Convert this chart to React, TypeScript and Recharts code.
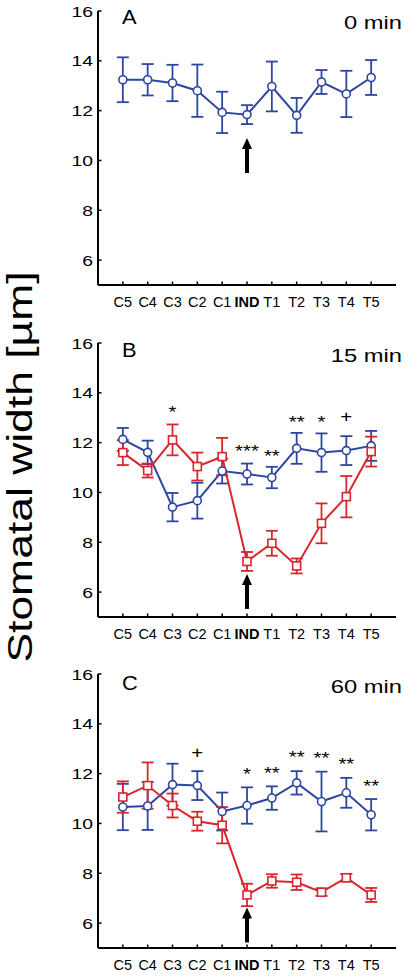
import { ComposedChart, ErrorBar, Line, Scatter, XAxis, YAxis } from 'recharts';

const categories = ['C5', 'C4', 'C3', 'C2', 'C1', 'IND', 'T1', 'T2', 'T3', 'T4', 'T5'];
const yTicks = [6, 8, 10, 12, 14, 16];

// panel A, 0 min
const blueA = [13.24, 13.24, 13.11, 12.8, 11.93, 11.84, 12.97, 11.81, 13.15, 12.67, 13.33];
const blueAErr = [0.9, 0.63, 0.73, 1.05, 0.83, 0.38, 1.0, 0.7, 0.48, 0.93, 0.7];

// panel B, 15 min
const blueB = [12.13, 11.61, 9.41, 9.67, 10.86, 10.74, 10.6, 11.77, 11.6, 11.68, 11.87];
const blueBErr = [0.46, 0.47, 0.57, 0.72, 0.5, 0.42, 0.43, 0.62, 0.77, 0.58, 0.6];
const redB = [11.6, 10.88, 12.11, 11.04, 11.44, 7.23, 7.96, 7.05, 8.76, 9.83, 11.64];
const redBErr = [0.5, 0.28, 0.62, 0.56, 0.75, 0.38, 0.5, 0.3, 0.8, 0.83, 0.6];

// panel C, 60 min
const blueC = [10.66, 10.7, 11.56, 11.52, 10.48, 10.72, 11.02, 11.63, 10.88, 11.23, 10.35];
const blueCErr = [0.93, 0.96, 0.84, 0.58, 0.76, 0.73, 0.47, 0.47, 1.2, 0.6, 0.63];
const redC = [11.06, 11.52, 10.72, 10.09, 9.93, 7.13, 7.69, 7.64, 7.24, 7.82, 7.13];
const redCErr = [0.63, 0.93, 0.48, 0.38, 0.73, 0.45, 0.27, 0.31, 0.15, 0.15, 0.28];

// significance marks: category index, height, symbol
const marksB = [
  { x: 2, y: 13.38, text: '*' },
  { x: 5, y: 11.84, text: '***' },
  { x: 6, y: 11.64, text: '**' },
  { x: 7, y: 13.0, text: '**' },
  { x: 8, y: 13.0, text: '*' },
  { x: 9, y: 13.05, text: '+' },
];
const marksC = [
  { x: 3, y: 12.85, text: '+' },
  { x: 5, y: 12.15, text: '*' },
  { x: 6, y: 12.2, text: '**' },
  { x: 7, y: 12.82, text: '**' },
  { x: 8, y: 12.78, text: '**' },
  { x: 9, y: 12.56, text: '**' },
  { x: 10, y: 11.68, text: '**' },
];

// arrow tip under IND
const arrowA = [{ x: 5, y: 10.9 }];
const arrowB = [{ x: 5, y: 6.73 }];
const arrowC = [{ x: 5, y: 6.63 }];

const FONT = '"Liberation Sans", Arial, Helvetica, sans-serif';
const BLUE = '#2c46a2';
const RED = '#d8262f';

function buildRows(blue: number[], blueErr: number[], red?: number[], redErr?: number[]) {
  return categories.map((label, i) => ({
    x: i,
    label,
    blue: blue[i],
    blueErr: blueErr[i],
    red: red ? red[i] : undefined,
    redErr: redErr ? redErr[i] : undefined,
  }));
}

const YTick = (props: any) => {
  const { x, y, payload } = props;
  return (
    <g>
      <line x1={x} y1={y} x2={x + 3.5} y2={y} stroke="#000" strokeWidth={1.5} />
      <text
        transform={`translate(${x - 5},${y + 5.5}) scale(1.25,1)`}
        textAnchor="end"
        fontSize={15.5}
        fontFamily={FONT}
        fill="#000"
      >
        {payload.value}
      </text>
    </g>
  );
};

const XTick = (props: any) => {
  const { x, y, payload } = props;
  const label = categories[payload.value] ?? '';
  return (
    <g>
      <line x1={x} y1={y} x2={x} y2={y - 3.5} stroke="#000" strokeWidth={1.5} />
      <text
        x={x}
        y={y + 22}
        textAnchor="middle"
        fontSize={14.5}
        fontWeight={label === 'IND' ? 'bold' : 'normal'}
        fontFamily={FONT}
        fill="#000"
      >
        {label}
      </text>
    </g>
  );
};

const circleDot = (p: any) => (
  <circle key={`c${p.index}`} cx={p.cx} cy={p.cy} r={4} fill="#fff" stroke={BLUE} strokeWidth={1.6} />
);

const squareDot = (p: any) => (
  <rect key={`s${p.index}`} x={p.cx - 4} y={p.cy - 4} width={8} height={8} fill="#fff" stroke={RED} strokeWidth={1.6} />
);

const MarkShape = (props: any) => {
  const { cx, cy, payload } = props;
  const plus = payload.text === '+';
  return (
    <text
      transform={`translate(${cx},${cy + (plus ? 6 : 10)}) scale(1.2,1)`}
      textAnchor="middle"
      fontSize={17}
      fontFamily={FONT}
      fill="#000"
    >
      {payload.text}
    </text>
  );
};

const ArrowShape = (props: any) => {
  const { cx, cy } = props;
  return (
    <g>
      <polygon points={`${cx},${cy} ${cx - 5},${cy + 11} ${cx + 5},${cy + 11}`} fill="#000" />
      <rect x={cx - 2} y={cy + 10} width={4} height={25} fill="#000" />
    </g>
  );
};

type PanelProps = {
  top: number;
  rows: ReturnType<typeof buildRows>;
  marks: { x: number; y: number; text: string }[];
  arrow: { x: number; y: number }[];
  withRed: boolean;
};

function Panel({ top, rows, marks, arrow, withRed }: PanelProps) {
  return (
    <div style={{ position: 'absolute', left: 0, top, width: 408, height: 312 }}>
      <ComposedChart width={408} height={312} margin={{ top: 10, right: 12, left: 0, bottom: 0 }}>
        <XAxis
          dataKey="x"
          type="number"
          domain={[-1, 11]}
          ticks={categories.map((_, i) => i)}
          interval={0}
          height={28}
          axisLine={{ stroke: '#000', strokeWidth: 2 }}
          tickLine={false}
          tickSize={0}
          tickMargin={0}
          tick={XTick}
        />
        <YAxis
          type="number"
          domain={[5, 16]}
          ticks={yTicks}
          width={98}
          axisLine={{ stroke: '#000', strokeWidth: 2 }}
          tickLine={false}
          tickSize={0}
          tickMargin={0}
          tick={YTick}
          allowDataOverflow
        />
        <Line
          data={rows}
          dataKey="blue"
          stroke={BLUE}
          strokeWidth={2}
          dot={circleDot}
          activeDot={false}
          isAnimationActive={false}
        >
          <ErrorBar dataKey="blueErr" direction="y" width={6} stroke={BLUE} strokeWidth={1.8} isAnimationActive={false} />
        </Line>
        {withRed && (
          <Line
            data={rows}
            dataKey="red"
            stroke={RED}
            strokeWidth={2}
            dot={squareDot}
            activeDot={false}
            isAnimationActive={false}
          >
            <ErrorBar dataKey="redErr" direction="y" width={6} stroke={RED} strokeWidth={1.8} isAnimationActive={false} />
          </Line>
        )}
        {marks.length > 0 && (
          <Scatter data={marks} dataKey="y" shape={MarkShape} isAnimationActive={false} />
        )}
        <Scatter data={arrow} dataKey="y" shape={ArrowShape} isAnimationActive={false} />
      </ComposedChart>
    </div>
  );
}

const panelTitles = [
  { letter: 'A', time: '0 min', letterY: 24, timeY: 29 },
  { letter: 'B', time: '15 min', letterY: 357, timeY: 362 },
  { letter: 'C', time: '60 min', letterY: 690, timeY: 693 },
];

export default function App() {
  return (
    <div
      style={{
        position: 'absolute',
        left: 0,
        top: 0,
        width: 408,
        height: 977,
        background: '#fff',
        fontFamily: FONT,
      }}
    >
      <Panel top={1} rows={buildRows(blueA, blueAErr)} marks={[]} arrow={arrowA} withRed={false} />
      <Panel top={333} rows={buildRows(blueB, blueBErr, redB, redBErr)} marks={marksB} arrow={arrowB} withRed />
      <Panel top={664} rows={buildRows(blueC, blueCErr, redC, redCErr)} marks={marksC} arrow={arrowC} withRed />
      <svg
        width={408}
        height={977}
        style={{ position: 'absolute', left: 0, top: 0, pointerEvents: 'none' }}
      >
        <text
          transform="translate(32,467) rotate(-90) scale(1.27,1)"
          textAnchor="middle"
          fontSize={35}
          fontFamily={FONT}
          fill="#000"
        >
          Stomatal width [µm]
        </text>
        {panelTitles.map((p) => (
          <g key={p.letter}>
            <text
              transform={`translate(122,${p.letterY}) scale(1.12,1)`}
              fontSize={19.5}
              fontFamily={FONT}
              fill="#000"
            >
              {p.letter}
            </text>
            <text
              transform={`translate(402,${p.timeY}) scale(1.25,1)`}
              textAnchor="end"
              fontSize={19}
              fontFamily={FONT}
              fill="#000"
            >
              {p.time}
            </text>
          </g>
        ))}
      </svg>
    </div>
  );
}
